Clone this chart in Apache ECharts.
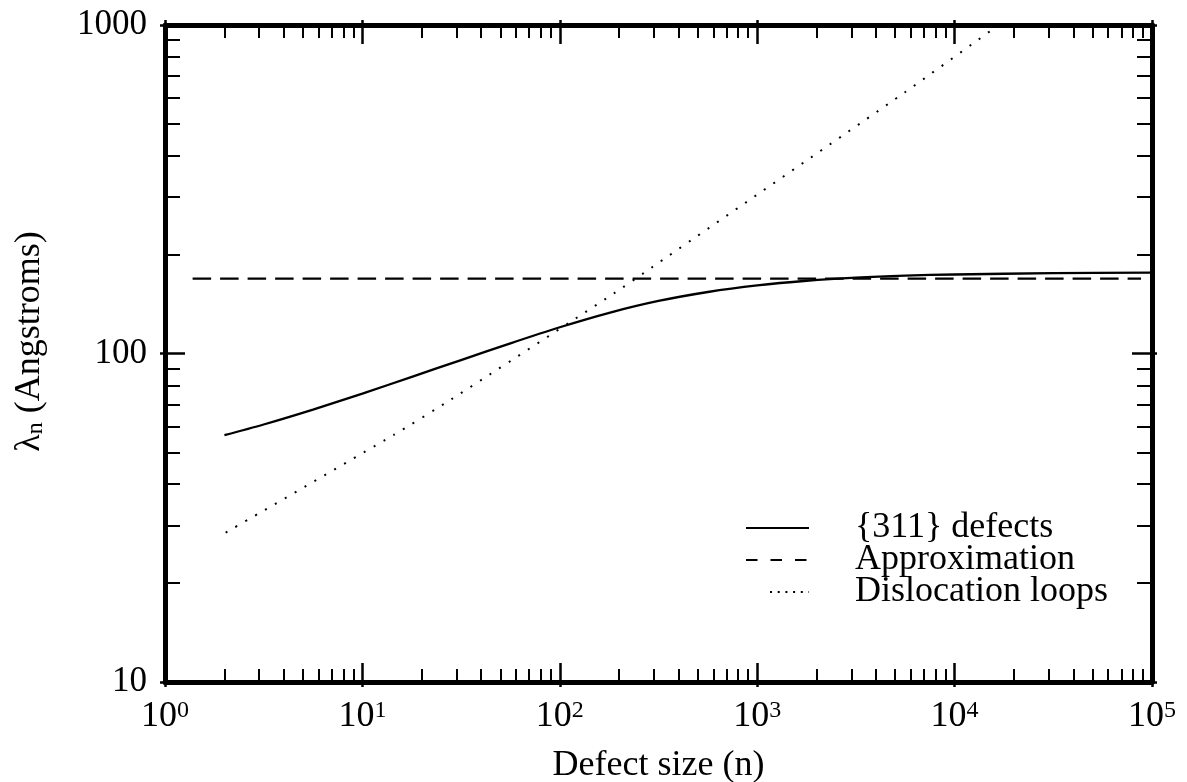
<!DOCTYPE html>
<html><head><meta charset="utf-8">
<script src="https://cdn.jsdelivr.net/npm/echarts@6/dist/echarts.min.js"></script>
<style>html,body{margin:0;padding:0;background:#fff}#c{width:1187px;height:782px}</style>
</head><body><div id="c"></div>
<script>
// ---- data ----
const xMajorTicks = [1, 10, 100, 1000, 10000, 100000];
const yMajorTicks = [10, 100, 1000];
const xMinorTicks = [];
for (let d = 0; d < 5; d++) for (let m = 2; m <= 9; m++) xMinorTicks.push(m * Math.pow(10, d));
const yMinorTicks = [];
for (let d = 1; d < 3; d++) for (let m = 2; m <= 9; m++) yMinorTicks.push(m * Math.pow(10, d));

const seriesNames = ['{311} defects', 'Approximation', 'Dislocation loops'];
const defectsN      = [2,    3.16, 5.62, 10,   17.8, 31.6, 56.2,  100,   178,   316,   562,   1000,  1780,  3160,  5620,  10000, 31600, 100000];
const defectsLambda = [56.4, 60.8, 67.5, 75.5, 84.9, 95.5, 107.4, 120.2, 133.0, 144.5, 153.9, 161.2, 166.5, 170.2, 172.6, 174.0, 175.6, 176.4];
const approxN      = [1.38, 88000];
const approxLambda = [169, 169];
const loopsN      = [2.03, 14.4, 28.3, 188,   291,   5580, 16700];
const loopsLambda = [28.5, 56.5, 72.6, 152.4, 182.4, 623,  1000];

const zip = (a, b) => a.map((v, i) => [v, b[i]]);
const FONT = 'Liberation Serif';
const BLACK = '#000';

function xAxisDef(pos, kind) {
  const base = {
    type: 'log', logBase: 10, min: 1, max: 100000, position: pos, gridIndex: 0,
    axisLine: { show: false, onZero: false },
    axisTick: { show: false }, axisLabel: { show: false }, splitLine: { show: false }
  };
  if (kind === 'main') {
    base.axisLine = { show: true, onZero: false, lineStyle: { color: BLACK, width: 5 } };
    base.axisTick = { show: true, inside: false, length: 5, customValues: xMajorTicks, lineStyle: { color: BLACK, width: 2.5 } };
    if (pos === 'bottom') {
      base.axisLabel = {
        show: true, customValues: xMajorTicks, margin: 17, color: BLACK,
        formatter: v => '{b|10}{s|' + Math.round(Math.log10(v)) + '}',
        rich: {
          b: { fontFamily: FONT, fontSize: 36, lineHeight: 36, color: BLACK },
          s: { fontFamily: FONT, fontSize: 24, lineHeight: 24, verticalAlign: 'top', color: BLACK }
        }
      };
      base.name = 'Defect size (n)';
      base.nameLocation = 'middle';
      base.nameGap = 66;
      base.nameTextStyle = { fontFamily: FONT, fontSize: 36, color: BLACK };
    }
  } else if (kind === 'major') {
    base.axisTick = { show: true, inside: true, length: 19, customValues: xMajorTicks, lineStyle: { color: BLACK, width: 2.5 } };
  } else {
    base.axisTick = { show: true, inside: true, length: 13, customValues: xMinorTicks, lineStyle: { color: BLACK, width: 2 } };
  }
  return base;
}

function yAxisDef(pos, kind) {
  const base = {
    type: 'log', logBase: 10, min: 10, max: 1000, position: pos, gridIndex: 0,
    axisLine: { show: false, onZero: false },
    axisTick: { show: false }, axisLabel: { show: false }, splitLine: { show: false }
  };
  if (kind === 'main') {
    base.axisLine = { show: true, onZero: false, lineStyle: { color: BLACK, width: 5 } };
    base.axisTick = { show: true, inside: false, length: 5, customValues: yMajorTicks, lineStyle: { color: BLACK, width: 2.5 } };
    if (pos === 'left') {
      base.axisLabel = {
        show: true, customValues: yMajorTicks, margin: 18, color: BLACK,
        fontFamily: FONT, fontSize: 35, formatter: v => String(v)
      };
      base.name = '{a|λ}{sub|n}{a| (Angstroms)}';
      base.nameLocation = 'middle';
      base.nameRotate = 90;
      base.nameGap = 117;
      base.nameTextStyle = {
        padding: [0, 0, 0, 24],
        rich: {
          a: { fontFamily: FONT, fontSize: 36, lineHeight: 36, color: BLACK },
          sub: { fontFamily: FONT, fontSize: 24, lineHeight: 24, verticalAlign: 'bottom', color: BLACK }
        }
      };
    }
  } else if (kind === 'major') {
    base.axisTick = { show: true, inside: true, length: 20, customValues: yMajorTicks, lineStyle: { color: BLACK, width: 2.5 } };
  } else {
    base.axisTick = { show: true, inside: true, length: 15, customValues: yMinorTicks, lineStyle: { color: BLACK, width: 2 } };
  }
  return base;
}

const chart = echarts.init(document.getElementById('c'), null, { renderer: 'canvas' });
chart.setOption({
  animation: false,
  backgroundColor: '#fff',
  grid: { left: 165, right: 35, top: 25, bottom: 100, containLabel: false, outerBoundsMode: 'none' },
  xAxis: [
    xAxisDef('bottom', 'main'), xAxisDef('bottom', 'major'), xAxisDef('bottom', 'minor'),
    xAxisDef('top', 'main'), xAxisDef('top', 'major'), xAxisDef('top', 'minor')
  ],
  yAxis: [
    yAxisDef('left', 'main'), yAxisDef('left', 'major'), yAxisDef('left', 'minor'),
    yAxisDef('right', 'main'), yAxisDef('right', 'major'), yAxisDef('right', 'minor')
  ],
  legend: {
    orient: 'vertical', left: 740, top: 505, itemGap: -4,
    itemWidth: 63, itemHeight: 4,
    itemStyle: { opacity: 0 },
    textStyle: { fontFamily: FONT, fontSize: 36, lineHeight: 32, color: BLACK, padding: [0, 0, 0, 41] },
    data: [
      { name: seriesNames[0] },
      { name: seriesNames[1], lineStyle: { type: [11.5, 13] } },
      { name: seriesNames[2], lineStyle: { type: [2, 5.7, 2, 5.7, 2, 5.7, 2, 5.7, 2, 5.7, 2, 25.5], dashOffset: 42 } }
    ]
  },
  series: [
    {
      name: seriesNames[0], type: 'line', xAxisIndex: 0, yAxisIndex: 0,
      data: zip(defectsN, defectsLambda), smooth: 0.3, symbol: 'none',
      lineStyle: { color: BLACK, width: 2.3, type: 'solid' }, itemStyle: { color: BLACK }
    },
    {
      name: seriesNames[1], type: 'line', xAxisIndex: 0, yAxisIndex: 0,
      data: zip(approxN, approxLambda), symbol: 'none',
      lineStyle: { color: BLACK, width: 2.2, type: [18.5, 9] }, itemStyle: { color: BLACK }
    },
    {
      name: seriesNames[2], type: 'line', xAxisIndex: 0, yAxisIndex: 0,
      data: zip(loopsN, loopsLambda), smooth: 0.2, symbol: 'none',
      lineStyle: { color: BLACK, width: 2, type: [2, 9.4] }, itemStyle: { color: BLACK }
    }
  ]
});
</script>
</body></html>
